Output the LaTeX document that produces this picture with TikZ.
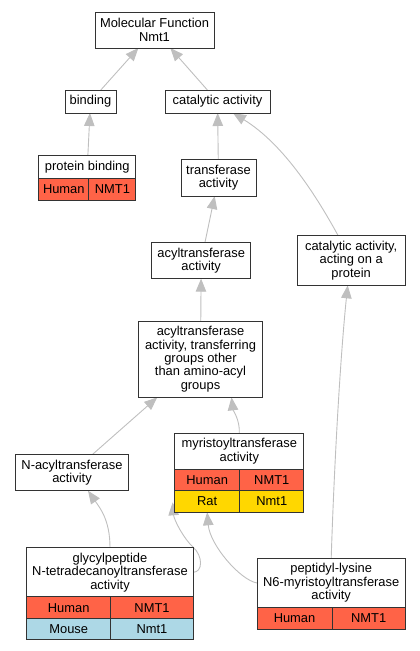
\documentclass[tikz,border=0pt]{standalone}
\usepackage{fontspec}
\setmainfont{Liberation Sans}
\usetikzlibrary{positioning,arrows.meta,calc}
\definecolor{human}{HTML}{FF6347}
\definecolor{rat}{HTML}{FFD700}
\definecolor{mouse}{HTML}{ADD8E6}
\pgfdeclarelayer{bg}
\pgfsetlayers{bg,main}
\tikzset{
  tm/.style={rectangle, draw=black!80, fill=white, line width=1pt, inner sep=0pt, outer sep=0pt, align=center, font=\fontsize{12.9}{13.4}\selectfont},
  cl/.style={tm, minimum height=21.5pt},
  ln/.style={draw=black!25, line width=0.9pt, -{Triangle[length=13pt,width=10.5pt]}},
  node distance=0pt
}
\begin{document}
\begin{tikzpicture}[x=1pt,y=-1pt]
	\useasboundingbox (0,0) rectangle (420,651);
	\node[tm, minimum width=119pt, minimum height=36pt] (mf) at (154.5,30) {Molecular Function\\Nmt1};
	\node[tm, minimum width=51pt, minimum height=23pt] (bd) at (90.5,101.5) {binding};
	\node[tm, minimum width=105pt, minimum height=23pt] (ca) at (217.5,101.5) {catalytic activity};
	\node[tm, minimum width=97.3pt, minimum height=23.5pt] (pb) at (87.3,167) {protein binding};
	\node[cl, fill=human, minimum width=50.3pt, anchor=north west] (pb1) at (pb.south west) {Human};
	\node[cl, fill=human, minimum width=47pt, right=of pb1] (pb2) {NMT1};
	\node[tm, minimum width=75pt, minimum height=36.7pt] (tr) at (218.5,177.7) {transferase\\activity};
	\node[tm, minimum width=99pt, minimum height=36.4pt] (ac) at (201.2,260.5) {acyltransferase\\activity};
	\node[tm, minimum width=108.3pt, minimum height=49.6pt] (cp) at (351.2,260.5) {catalytic activity,\\acting on a\\protein};
	\node[tm, minimum width=124.4pt, minimum height=76.3pt] (ag) at (200.5,359.2) {acyltransferase\\activity, transferring\\groups other\\than amino-acyl\\groups};
	\node[tm, minimum width=112.6pt, minimum height=36.4pt] (na) at (72,472.5) {N-acyltransferase\\activity};
	\node[tm, minimum width=129.3pt, minimum height=36pt] (my) at (239.3,451.3) {myristoyltransferase\\activity};
	\node[cl, fill=human, minimum width=65pt, anchor=north west] (my1) at (my.south west) {Human};
	\node[cl, fill=human, minimum width=64.3pt, right=of my1] (my2) {NMT1};
	\node[cl, fill=rat, minimum width=65pt, anchor=north west] (my3) at (my1.south west) {Rat};
	\node[cl, fill=rat, minimum width=64.3pt, right=of my3] (my4) {Nmt1};
	\node[tm, minimum width=166.6pt, minimum height=49.3pt] (gp) at (110,572.3) {glycylpeptide\\N-tetradecanoyltransferase\\activity};
	\node[cl, fill=human, minimum width=84pt, anchor=north west] (gp1) at (gp.south west) {Human};
	\node[cl, fill=human, minimum width=82.6pt, right=of gp1] (gp2) {NMT1};
	\node[cl, fill=mouse, minimum width=84pt, anchor=north west] (gp3) at (gp1.south west) {Mouse};
	\node[cl, fill=mouse, minimum width=82.6pt, right=of gp3] (gp4) {Nmt1};
	\node[tm, minimum width=148.3pt, minimum height=49.4pt] (pl) at (331.2,583) {peptidyl-lysine\\N6-myristoyltransferase\\activity};
	\node[cl, fill=human, minimum width=75pt, anchor=north west] (pl1) at (pl.south west) {Human};
	\node[cl, fill=human, minimum width=73.3pt, right=of pl1] (pl2) {NMT1};
	\coordinate (myt) at ([xshift=-2pt,yshift=10pt]my3.south west);
	% is-a links, child to parent
	\begin{pgfonlayer}{bg}
	\draw[ln] (bd) -- (mf);
	\draw[ln] (ca) -- (mf);
	\draw[ln] (pb) -- (bd);
	\draw[ln] (tr) -- (ca);
	\draw[ln] ([xshift=-13pt]cp.north) .. controls (318,199) and (285,145) .. ([xshift=15.5pt]ca.south);
	\draw[ln] (ac) -- (tr);
	\draw[ln] (ag) -- (ac);
	\draw[ln] (na) -- (ag);
	\draw[ln] (my.north) .. controls (240,420) and (233,410) .. ([xshift=31pt]ag.south);
	\draw[ln] (gp.north) .. controls (110,520) and (100,508) .. ([xshift=16pt]na.south);
	\draw[ln] (gp.east) .. controls (203,572) and (203,556) .. (193,547) .. controls (184,539) and (174,520) .. (myt);
	\draw[ln] (pl.west) .. controls (240,580) and (210,545) .. (my3.south);
	\draw[ln] (pl.north) .. controls (334,470) and (340,360) .. ([xshift=-3.5pt]cp.south);
	\end{pgfonlayer}
\end{tikzpicture}
\end{document}
